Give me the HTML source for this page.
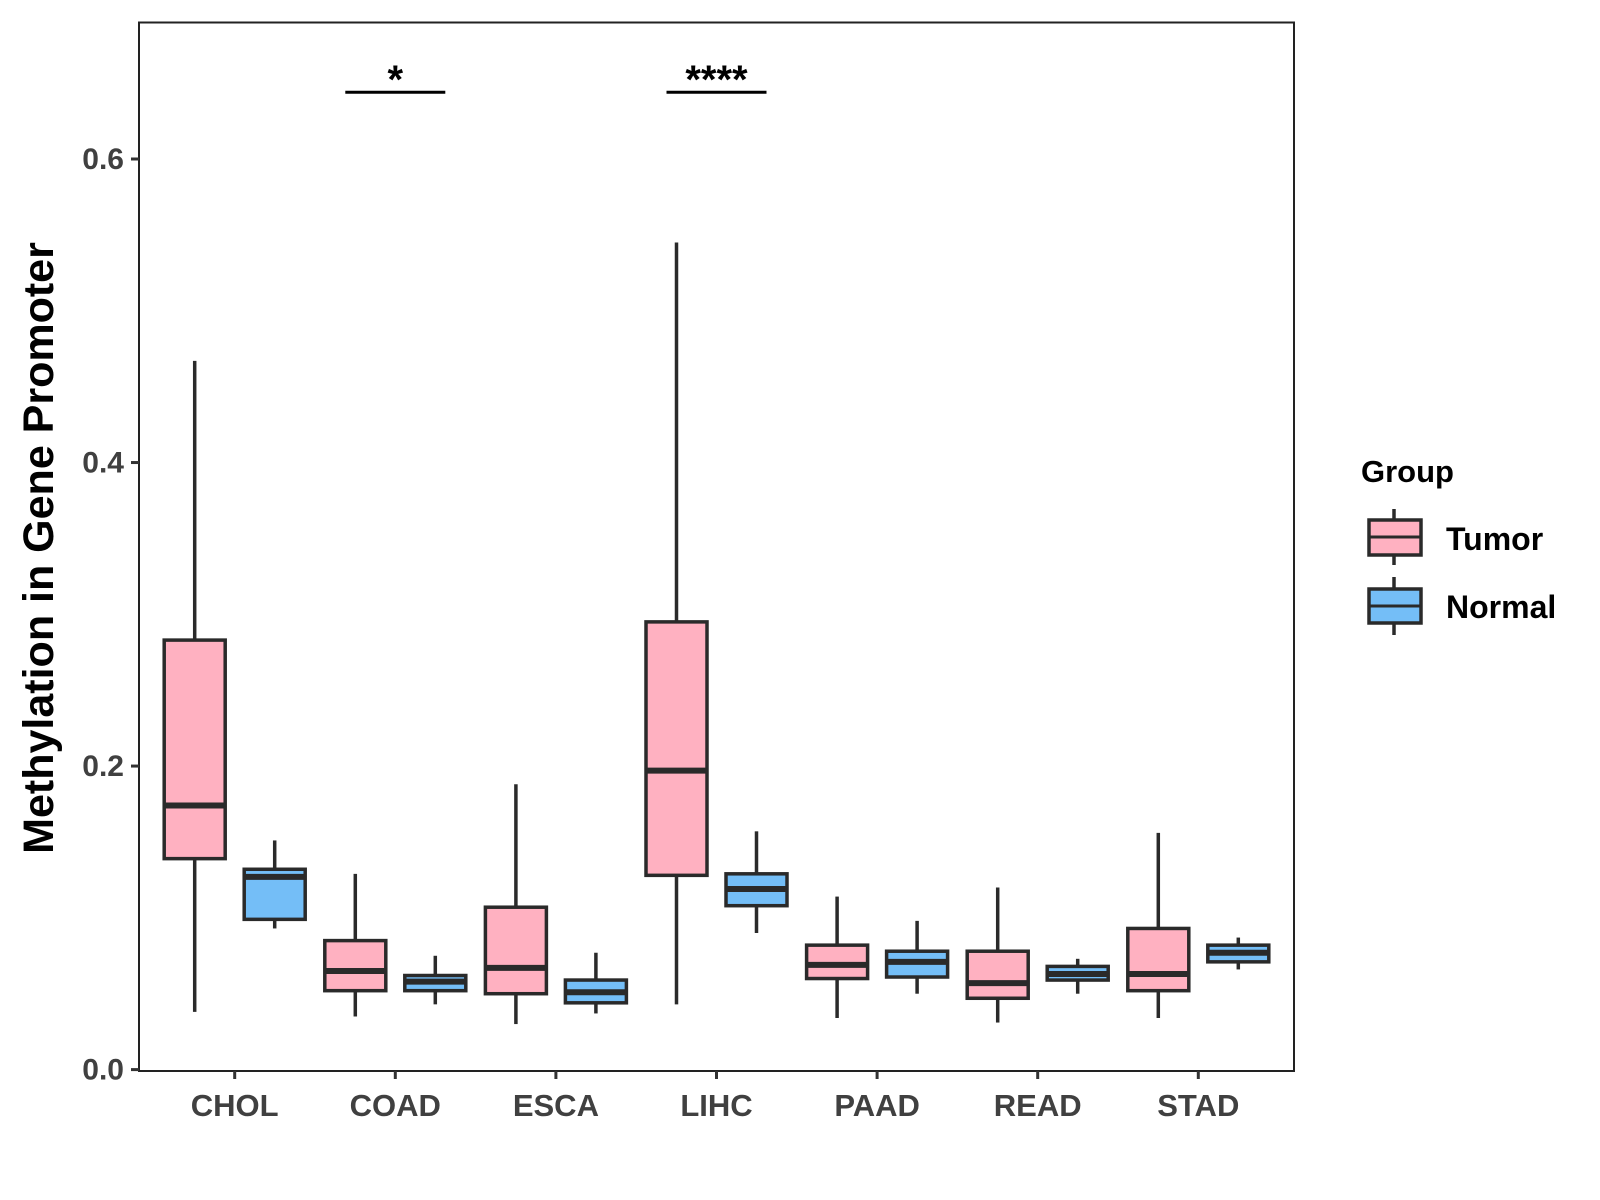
<!DOCTYPE html>
<html><head><meta charset="utf-8"><style>
html,body{margin:0;padding:0;background:#fff;}
svg{display:block;font-family:"Liberation Sans",Arial,sans-serif;}
</style></head><body>
<svg id="chart" width="1600" height="1200" viewBox="0 0 1600 1200">
<rect x="139" y="22.5" width="1155" height="1048.5" fill="#fff" stroke="#222" stroke-width="2"/>
<g id="marks"></g>
<text x="39" y="548" transform="rotate(-90 39 548)" text-anchor="middle" dominant-baseline="central" font-size="43" font-weight="bold" fill="#000">Methylation in Gene Promoter</text>
<g>
<text x="1361" y="482" font-size="31" font-weight="bold" fill="#000">Group</text>
<g>
<line x1="1394" y1="509" x2="1394" y2="565" stroke="#2a2a2a" stroke-width="3.5"/>
<rect x="1369" y="520" width="52" height="35" fill="#FFB1C1" stroke="#2a2a2a" stroke-width="3.5"/>
<line x1="1369" y1="537" x2="1421" y2="537" stroke="#2a2a2a" stroke-width="3"/>
<text x="1446" y="550" font-size="32" font-weight="bold" fill="#000">Tumor</text></g>
<g>
<line x1="1394" y1="577" x2="1394" y2="635" stroke="#2a2a2a" stroke-width="3.5"/>
<rect x="1369" y="589" width="52" height="34" fill="#74BEF7" stroke="#2a2a2a" stroke-width="3.5"/>
<line x1="1369" y1="606" x2="1421" y2="606" stroke="#2a2a2a" stroke-width="3"/>
<text x="1446" y="618" font-size="32" font-weight="bold" fill="#000">Normal</text></g>
</g>
</svg>
<script>
const categories=["CHOL","COAD","ESCA","LIHC","PAAD","READ","STAD"];
// [lowWhisker, q1, median, q3, highWhisker]
const tumorStats=[[0.038,0.139,0.174,0.283,0.467],[0.035,0.052,0.065,0.085,0.129],[0.030,0.050,0.067,0.107,0.188],[0.043,0.128,0.197,0.295,0.545],[0.034,0.060,0.069,0.082,0.114],[0.031,0.047,0.057,0.078,0.120],[0.034,0.052,0.063,0.093,0.156]];
const normalStats=[[0.093,0.099,0.127,0.132,0.151],[0.043,0.052,0.058,0.062,0.075],[0.037,0.044,0.051,0.059,0.077],[0.090,0.108,0.119,0.129,0.157],[0.050,0.061,0.071,0.078,0.098],[0.050,0.059,0.063,0.068,0.073],[0.066,0.071,0.077,0.082,0.087]];
const yTicks=[0,0.2,0.4,0.6];
const yTickLabels=["0.0","0.2","0.4","0.6"];
const sigPairs=[{cat:"COAD",label:"*",y:0.644},{cat:"LIHC",label:"****",y:0.644}];

const NS="http://www.w3.org/2000/svg";
const g=document.getElementById('marks');
function yS(v){return 1069.6-v*(1069.6-159)/0.6;}
function xS(i){return 234.7+i*160.6;}
function mk(t,a,p){const e=document.createElementNS(NS,t);for(const k in a)e.setAttribute(k,a[k]);(p||g).appendChild(e);return e;}
const L="#2a2a2a";
yTicks.forEach((v,i)=>{
  const t=mk('line',{x1:131,x2:139,y1:yS(v),y2:yS(v),stroke:"#333","stroke-width":3});
  
  
  const tx=mk('text',{x:124,y:yS(v)+10,"text-anchor":"end","font-size":30,"font-weight":"bold",fill:"#404040"});
  tx.textContent=yTickLabels[i];
  
  
});
categories.forEach((c,i)=>{
  const x=xS(i);
  const t=mk('line',{x1:x,x2:x,y1:1071,y2:1079,stroke:"#333","stroke-width":3});
  
  
  const tx=mk('text',{x:x,y:1116,"text-anchor":"middle","font-size":31,"font-weight":"bold",fill:"#404040"});
  tx.textContent=c;
  
  
  [[tumorStats[i],-40,"#FFB1C1","tumor"],[normalStats[i],40,"#74BEF7","normal"]].forEach(([s,off,col,nm])=>{
    const cx=x+off,w=61;
    const grp=mk('g',{});
    
    
    mk('line',{x1:cx,x2:cx,y1:yS(s[4]),y2:yS(s[3]),stroke:L,"stroke-width":3.5},grp);
    mk('line',{x1:cx,x2:cx,y1:yS(s[1]),y2:yS(s[0]),stroke:L,"stroke-width":3.5},grp);
    mk('rect',{x:cx-w/2,y:yS(s[3]),width:w,height:yS(s[1])-yS(s[3]),fill:col,stroke:L,"stroke-width":3.5},grp);
    mk('line',{x1:cx-w/2,x2:cx+w/2,y1:yS(s[2]),y2:yS(s[2]),stroke:L,"stroke-width":6},grp);
  });
});
sigPairs.forEach(p=>{
  const i=categories.indexOf(p.cat),x=xS(i);
  const ln=mk('line',{x1:x-50,x2:x+50,y1:yS(p.y),y2:yS(p.y),stroke:"#000","stroke-width":3});
  
  
  const tx=mk('text',{x:x,y:yS(p.y)+1,"text-anchor":"middle","font-size":40,"font-weight":"bold",fill:"#000"});
  tx.textContent=p.label;
  
  
});
</script>
</body></html>
